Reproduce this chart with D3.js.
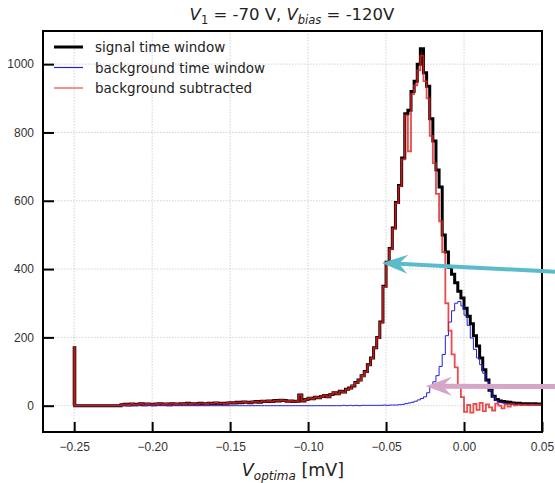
<!DOCTYPE html>
<html>
<head>
<meta charset="utf-8">
<script src="https://cdn.jsdelivr.net/npm/d3@7"></script>
<style>
  body { margin: 0; background: #fff; }
  svg { font-family: "DejaVu Sans", sans-serif; }
</style>
</head>
<body>
<div id="chart"></div>
<script>
// histogram bins: width 0.002 mV starting at -0.25 mV (first bin is the narrow underflow spike)
const binStart = -0.25;
const binWidth = 0.002;
const spikeWidth = 0.0004;

const signalCounts = [
  170, 0,0,0,0,0,0,0,0,0,0,0,0,0,0,
  3,4,2,5,3,4,6,3,5,4,3,5,6,4,5,3,6,5,4,6,5,7,5,6,4,7,6,5,7,6,8,6,7,5,8,
  9,8,10,9,11,10,9,11,12,10,13,12,14,12,15,14,16,15,13,14,
  12,13,31,14,18,22,20,25,23,27,30,26,33,38,35,42,40,48,52,58,
  68,75,88,100,120,140,170,200,245,350,
  420,460,520,595,645,725,855,865,920,950,
  1000,1045,975,935,840,775,690,640,500,450,
  405,385,360,335,315,285,262,240,205,175,
  140,105,75,45,28,18,14,12,11,10,
  8,7,7,6,6,6,5,6,5,5
];

const backgroundCounts = [
  0, 0,0,0,0,0,0,0,0,0,0,0,0,0,0,
  0,0,0,0,0,0,0,0,0,0,0,0,0,0,0,0,0,0,0,0,0,0,0,0,0,0,0,0,0,0,0,0,0,0,0,
  0,0,0,0,0,0,0,0,0,0,0,0,0,0,0,0,0,0,0,0,
  0,0,0,0,0,0,0,0,0,0,0,0,0,0,0,0,1,0,1,0,
  1,0,1,1,1,1,1,1,1,2,
  1,2,2,2,3,4,6,8,10,13,
  17,21,26,38,55,70,88,115,150,205,
  245,278,300,305,292,265,235,198,165,140,
  120,95,72,45,26,15,10,8,6,5,
  4,4,3,4,3,3,4,3,3,3
];

const subtractedCounts = [
  170, 0,0,0,0,0,0,0,0,0,0,0,0,0,0,
  3,4,2,5,3,4,6,3,5,4,3,5,6,4,5,3,6,5,4,6,5,7,5,6,4,7,6,5,7,6,8,6,7,5,8,
  9,8,10,9,11,10,9,11,12,10,13,12,14,12,15,14,16,15,13,14,
  12,13,31,14,18,22,20,25,23,27,30,26,33,38,35,42,39,48,51,58,
  67,75,87,99,119,139,169,199,244,348,
  419,458,518,593,642,721,850,745,912,938,
  982,1025,950,900,790,710,620,540,450,300,
  220,150,112,55,25,-18,2,-20,5,-12,
  8,-16,4,-5,-14,6,0,-8,4,-3,
  5,1,4,2,3,2,3,3,2,3
];

const xTicks = [-0.25, -0.20, -0.15, -0.10, -0.05, 0.00, 0.05];
const yTicks = [0, 200, 400, 600, 800, 1000];

const series = [
  { label: "signal time window", counts: signalCounts, color: "#000", width: 3, opacity: 1 },
  { label: "background time window", counts: backgroundCounts, color: "#2020dd", width: 1, opacity: 1 },
  { label: "background subtracted", counts: subtractedCounts, color: "#e51e1e", width: 1.8, opacity: 0.8 }
];

// annotation arrows in data coordinates (tail is outside the plot, on the right)
const arrows = [
  { from: [0.059, 392], to: [-0.0527, 418], color: "#5bbcc9", width: 4 },
  { from: [0.059, 56], to: [-0.0245, 57], color: "#d6a6c6", width: 5 }
];

const W = 555, H = 483;
const margin = { top: 31, right: 13, bottom: 51, left: 43 };
const width = W - margin.left - margin.right;
const height = H - margin.top - margin.bottom;

const svg = d3.select("#chart").append("svg")
  .attr("width", W).attr("height", H);

const g = svg.append("g")
  .attr("transform", `translate(${margin.left},${margin.top})`);

const x = d3.scaleLinear().domain([-0.27, 0.05]).range([0, width]);
const y = d3.scaleLinear().domain([-77, 1097]).range([height, 0]);

g.append("defs").append("clipPath").attr("id", "clip")
  .append("rect").attr("width", width).attr("height", height);

// grid
g.append("g").selectAll("line").data(xTicks).enter().append("line")
  .attr("x1", d => x(d)).attr("x2", d => x(d))
  .attr("y1", 0).attr("y2", height)
  .attr("stroke", "#c8c8c8").attr("stroke-width", 0.8).attr("stroke-dasharray", "1.5,1.5");
g.append("g").selectAll("line").data(yTicks).enter().append("line")
  .attr("x1", 0).attr("x2", width)
  .attr("y1", d => y(d)).attr("y2", d => y(d))
  .attr("stroke", "#c8c8c8").attr("stroke-width", 0.8).attr("stroke-dasharray", "1.5,1.5");

// bin edges: narrow first bin, then regular bins
function edgeAt(i) {
  if (i === 0) return binStart;
  if (i === 1) return binStart + spikeWidth;
  return binStart + i * binWidth;
}

// step outline of a histogram
function stepPoints(counts) {
  const pts = [[binStart, 0]];
  counts.forEach((c, i) => {
    pts.push([edgeAt(i), c], [edgeAt(i + 1), c]);
  });
  pts.push([edgeAt(counts.length), 0]);
  return pts;
}

const line = d3.line().x(d => x(d[0])).y(d => y(d[1]));

const plot = g.append("g").attr("clip-path", "url(#clip)");
series.forEach(s => {
  plot.append("path")
    .attr("d", line(stepPoints(s.counts)))
    .attr("fill", "none")
    .attr("stroke", s.color)
    .attr("stroke-width", s.width)
    .attr("stroke-opacity", s.opacity)
    .attr("stroke-linejoin", "miter");
});

// axes with inward ticks
const fmtX = d => d3.format(".2f")(d).replace("-", "\u2212");
const xAxis = g.append("g").attr("transform", `translate(0,${height})`)
  .call(d3.axisBottom(x).tickValues(xTicks).tickSize(-10).tickPadding(10).tickFormat(fmtX));
const yAxis = g.append("g")
  .call(d3.axisLeft(y).tickValues(yTicks).tickSize(-11).tickPadding(9).tickFormat(d3.format("d")));
[xAxis, yAxis].forEach(a => {
  a.select(".domain").remove();
  a.selectAll(".tick line").attr("stroke", "#000").attr("stroke-width", 2);
  a.selectAll(".tick text").attr("fill", "#333").style("font-size", "12px");
});

// frame
g.append("rect").attr("width", width).attr("height", height)
  .attr("fill", "none").attr("stroke", "#000").attr("stroke-width", 2);

// legend
const legend = g.append("g").attr("transform", "translate(11,16)");
series.forEach((s, i) => {
  const row = legend.append("g").attr("transform", `translate(0,${i * 20.5})`);
  row.append("line").attr("x1", 0).attr("x2", 29).attr("y1", 0).attr("y2", 0)
    .attr("stroke", s.color).attr("stroke-width", s.width === 3 ? 3 : 1.2)
    .attr("stroke-opacity", s.opacity);
  row.append("text").attr("x", 41).attr("y", 5)
    .attr("fill", "#222").style("font-size", "13.5px").text(s.label);
});

// annotation arrows
arrows.forEach(a => {
  const x1 = margin.left + x(a.from[0]), y1 = margin.top + y(a.from[1]);
  const x2 = margin.left + x(a.to[0]), y2 = margin.top + y(a.to[1]);
  const ang = Math.atan2(y2 - y1, x2 - x1);
  const len = 26, half = 9.5, notch = 17;
  const ux = Math.cos(ang), uy = Math.sin(ang);
  const bx = x2 - ux * len, by = y2 - uy * len;
  const nx = x2 - ux * notch, ny = y2 - uy * notch;
  svg.append("line")
    .attr("x1", x1).attr("y1", y1).attr("x2", nx).attr("y2", ny)
    .attr("stroke", a.color).attr("stroke-width", a.width);
  svg.append("path")
    .attr("d", `M${x2},${y2}L${bx - uy * half},${by + ux * half}L${nx},${ny}L${bx + uy * half},${by - ux * half}Z`)
    .attr("fill", a.color);
});

// title
const title = svg.append("text").attr("x", 292).attr("y", 20)
  .attr("text-anchor", "middle").attr("fill", "#222").style("font-size", "16.5px");
title.append("tspan").style("font-style", "italic").text("V");
title.append("tspan").attr("dy", 4).style("font-size", "11.5px").text("1");
title.append("tspan").attr("dy", -4).text(" = -70 V, ");
title.append("tspan").style("font-style", "italic").text("V");
title.append("tspan").attr("dy", 4).style("font-size", "11.5px").style("font-style", "italic").text("bias");
title.append("tspan").attr("dy", -4).text(" = -120V");

// x label
const xl = svg.append("text").attr("x", 293).attr("y", 476)
  .attr("text-anchor", "middle").attr("fill", "#222").style("font-size", "17.5px");
xl.append("tspan").style("font-style", "italic").text("V");
xl.append("tspan").attr("dy", 4).style("font-size", "12px").style("font-style", "italic").text("optima");
xl.append("tspan").attr("dy", -4).text(" [mV]");
</script>
</body>
</html>
